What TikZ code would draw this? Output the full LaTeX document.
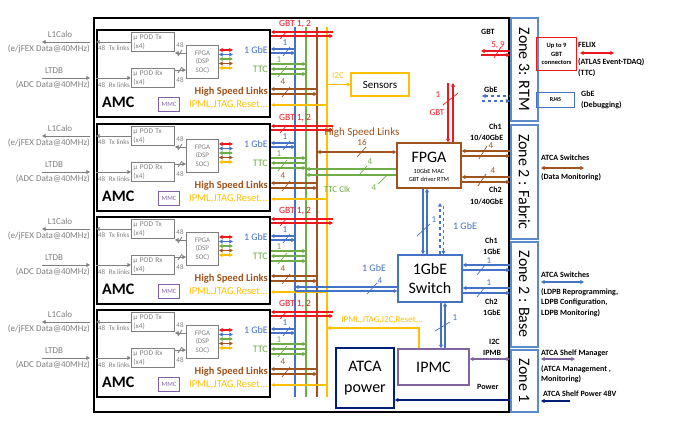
\documentclass[tikz,border=0pt]{standalone}
\usepackage{fontspec}
\setmainfont{Carlito}
\usetikzlibrary{positioning,calc,arrows.meta}

\definecolor{gbtred}{RGB}{235,25,30}
\definecolor{gbeblue}{RGB}{68,114,196}
\definecolor{ttcgreen}{RGB}{112,173,71}
\definecolor{hslbrown}{RGB}{158,84,28}
\definecolor{ctrlyellow}{RGB}{255,192,0}
\definecolor{mmcpurple}{RGB}{128,100,162}
\definecolor{pwrnavy}{RGB}{0,32,120}
\definecolor{podgray}{RGB}{127,127,127}
\definecolor{zoneblue}{RGB}{91,139,201}

\begin{document}
\begin{tikzpicture}[
    x=1pt, y=-1pt,
    >={Triangle[length=3.6pt,width=3.8pt]},
    bus/.style={line width=1.1pt},
    gbt/.style={bus, gbtred},
    gbe/.style={bus, gbeblue},
    ttc/.style={bus, ttcgreen},
    hsl/.style={bus, hslbrown},
    ctrl/.style={bus, ctrlyellow},
    ipmb/.style={bus, mmcpurple},
    pwr/.style={bus, pwrnavy},
    pod/.style={line width=0.9pt, podgray},
    cut/.style={line width=0.7pt},
    lbl/.style={inner sep=0pt, font=\fontsize{9}{10}\selectfont},
    side/.style={anchor=west, inner sep=0pt, font=\fontsize{8}{9}\selectfont\bfseries},
    ext/.style={inner sep=0pt, text=podgray, font=\fontsize{9}{10}\selectfont},
    amcbox/.style={draw, line width=1.8pt, anchor=north west, minimum width=173pt, minimum height=87pt, inner sep=0pt},
    podbox/.style={draw=podgray, line width=0.9pt, anchor=north west, minimum width=43pt, minimum height=19pt, text width=39pt, inner sep=2pt, align=left, text=podgray, font=\fontsize{7.3}{8.5}\selectfont},
    dspbox/.style={draw=podgray, line width=0.9pt, anchor=north west, minimum width=32pt, minimum height=33pt, inner sep=1pt, align=center, text=podgray, font=\fontsize{7}{8.5}\selectfont},
    podtxt/.style={anchor=west, inner sep=0pt, text=podgray, font=\fontsize{7}{7}\selectfont},
    bigbox/.style={line width=1.3pt, align=center, inner sep=0pt, font=\fontsize{16}{19}\selectfont},
    zone/.style={draw=zoneblue, line width=1.6pt, anchor=north west, minimum width=27pt, inner sep=0pt},
    zonetxt/.style={rotate=-90, inner sep=0pt, font=\fontsize{16}{16}\selectfont}
  ]
  \useasboundingbox (0,0) rectangle (681,432);

  % LDPB carrier board
  \node[draw, line width=2pt, anchor=north west, minimum width=415pt, minimum height=394pt, inner sep=0pt] (ldpb) at (93,17) {};

  % backplane buses
  \coordinate (busB) at (295,27);
  \coordinate (busG) at (306,27);
  \coordinate (busBr) at (317,27);
  \coordinate (busY) at (327,27);
  \coordinate (gbtEnd) at (333,27);
  \draw[gbe] (busB) -- (busB |- 0,397);
  \draw[ttc] (busG) -- (busG |- 0,397);
  \draw[hsl] (busBr) -- (busBr |- 0,397);
  \draw[ctrl] (busY) -- (busY |- 0,397);

  % the four AMC cards
  \foreach \t [count=\i] in {29,123,216,309}{
  \begin{scope}[shift={(0,\t)}]
    \node[amcbox] (amc\i) at (96,0) {};
    \node[anchor=west, inner sep=0pt, font=\fontsize{16}{16}\selectfont\bfseries] at (102,73) {AMC};
    \node[podbox] (tx\i) at (131,3) {µ POD Tx\\(x4)};
    \node[podbox] (rx\i) at (131,39) {µ POD Rx\\(x4)};
    \node[dspbox] (dsp\i) at (186,16) {FPGA\\(DSP\\SOC)};
    \node[draw=mmcpurple, line width=1pt, anchor=north west, minimum width=21pt, minimum height=14pt, inner sep=0pt, text=mmcpurple, font=\fontsize{6.5}{7}\selectfont] (mmc\i) at (158,68) {MMC};
    \draw[pod,->] (tx\i.west) -- (tx\i.west -| amc\i.west);
    \draw[pod,->] (rx\i.west -| amc\i.west) -- (rx\i.west);
    \node[podtxt] at (98,19) {48\enspace Tx links};
    \node[podtxt] at (98,56) {48\enspace Rx links};
    \draw[pod,->] (dsp\i.west |- 0,24) -- (0,24 -| tx\i.east);
    \draw[pod,->] (rx\i.east |- 0,41) -- (0,41 -| dsp\i.west);
    \draw[pod] (178,27) -- ++(4,-6);
    \draw[pod] (178,44) -- ++(4,-6);
    \node[podtxt, anchor=center] at (180,16) {48};
    \node[podtxt, anchor=center] at (180,51) {48};
    \foreach \c/\yy in {gbtred/21,gbeblue/25.5,ttcgreen/30,hslbrown/34.5,ctrlyellow/39}
      \draw[bus,\c,<->] (dsp\i.east |- 0,\yy) -- ++(14,0);
    \node[anchor=east, inner sep=0pt, text=gbeblue, font=\fontsize{10}{11}\selectfont] at (268,21) {1 GbE};
    \node[anchor=east, inner sep=0pt, text=ttcgreen, font=\fontsize{10}{11}\selectfont] at (268,40) {TTC};
    \node[anchor=east, inner sep=0pt, text=hslbrown, font=\fontsize{10.5}{11}\selectfont\bfseries] at (268,63) {High Speed Links};
    \node[anchor=east, inner sep=0pt, text=ctrlyellow, font=\fontsize{10.5}{11}\selectfont] at (268,76) {IPML,JTAG,Reset...};
    % front panel links
    \node[ext] at (60,5) {L1Calo};
    \draw[pod,->] ($(tx\i.west -| ldpb.west)+(-3,0)$) -- ++(-48,0);
    \node[ext, anchor=east] at (90,20) {(e/jFEX Data@40MHz)};
    \node[ext] at (54,42) {LTDB};
    \draw[pod,<-] ($(rx\i.west -| ldpb.west)+(-3,0)$) -- ++(-48,0);
    \node[ext, anchor=east] at (90,56) {(ADC Data@40MHz)};
    % links to the buses
    \draw[gbt,<-] (amc\i.east |- 0,3) -- (0,3 -| gbtEnd);
    \draw[gbt,->] (amc\i.east |- 0,7) -- (0,7 -| gbtEnd);
    \draw[gbt,cut] (280,10) -- ++(7,-8);
    \node[lbl, text=gbtred, font=\fontsize{9.5}{10}\selectfont] at (295,-5) {GBT 1, 2};
    \draw[gbe,<-] (amc\i.east |- 0,20) -- (0,20 -| busB);
    \draw[gbe,->] (amc\i.east |- 0,24) -- (0,24 -| busB);
    \draw[gbe,cut] (283,27) -- ++(7,-9);
    \node[lbl, text=gbeblue] at (285,14) {1};
    \draw[ttc,->] (amc\i.east |- 0,35) -- (0,35 -| busG);
    \draw[ttc,<-] (amc\i.east |- 0,40) -- (0,40 -| busG);
    \draw[ttc,->] (amc\i.east |- 0,45) -- (0,45 -| busG);
    \draw[ttc,cut] (278,48) -- ++(9,-11);
    \node[lbl, text=ttcgreen] at (279,31) {1};
    \draw[hsl,<-] (amc\i.east |- 0,60) -- (0,60 -| busBr);
    \draw[hsl,->] (amc\i.east |- 0,65) -- (0,65 -| busBr);
    \draw[hsl,cut] (282,68) -- ++(8,-10);
    \node[lbl, text=hslbrown] at (283,53) {4};
    \draw[ctrl,<-] (amc\i.east |- 0,76) -- (0,76 -| busY);
  \end{scope}
  }

  % sensors
  \node[draw=ctrlyellow, line width=1.1pt, minimum width=58pt, minimum height=23pt, inner sep=0pt, font=\fontsize{11}{12}\selectfont] (sens) at (380,84.5) {Sensors};
  \draw[ctrl,->] (busY |- sens.west) -- (sens.west);
  \node[lbl, text=ctrlyellow] at (338,76) {I2C};

  % RTM FPGA
  \node[bigbox, draw=hslbrown, minimum width=64pt, minimum height=45pt] (fpga) at (429,165.5) {};
  \node[inner sep=0pt, font=\fontsize{16}{16}\selectfont] at (429,157) {FPGA};
  \node[inner sep=0pt, align=center, font=\fontsize{6.3}{8}\selectfont] at (429,175) {10GbE MAC\\GBT driver RTM};
  \draw[hsl,<->] (busBr |- 0,152) -- (fpga.west |- 0,152);
  \draw[hsl,cut] (357,157) -- ++(9,-10);
  \node[lbl, text=hslbrown] at (362,142) {16};
  \node[lbl, text=hslbrown, font=\fontsize{11}{12}\selectfont] at (362,133) {High Speed Links};
  \draw[ttc,<-] (busG |- 0,169) -- (fpga.west |- 0,169);
  \draw[ttc,<-] (busG |- 0,175) -- (fpga.west |- 0,175);
  \draw[ttc,cut] (359,175) -- ++(8,-9);
  \node[lbl, text=ttcgreen] at (370,162) {4};
  \draw[ttc,cut] (378,184) -- ++(9,-9);
  \node[lbl, text=ttcgreen] at (374,188) {4};
  \node[lbl, text=ttcgreen] at (337,189) {TTC Clk};

  % GBT link to the RTM connectors
  \coordinate (gbtA) at (448,83);
  \coordinate (gbtB) at (453,83);
  \draw[gbt,->] (gbtA) -- (gbtA |- fpga.north);
  \draw[gbt,<-] (gbtB) -- (gbtB |- fpga.north);
  \draw[gbt,cut] (443,105) -- ++(15,-12);
  \node[lbl, text=gbtred] at (438,95) {1};
  \node[lbl, text=gbtred] at (437,113) {GBT};

  \node[side] at (481,32) {GBT};
  \node[lbl, text=gbtred] at (498,45) {5, 9};
  \coordinate (rtmGa) at (481,51);
  \coordinate (rtmGb) at (481,55);
  \draw[gbt,<-] (rtmGa) -- (rtmGa -| ldpb.east);
  \draw[gbt,->] (rtmGb) -- (rtmGb -| ldpb.east);
  \draw[gbt,cut] (494,58) -- ++(7,-11);

  \node[side] at (484,90) {GbE};
  \coordinate (rtmEa) at (482,96);
  \coordinate (rtmEb) at (482,101);
  \draw[gbe,dashed,<-] (rtmEa) -- (rtmEa -| ldpb.east);
  \draw[gbe,dashed,->] (rtmEb) -- (rtmEb -| ldpb.east);

  % fabric channels
  \node[side] at (489,127) {Ch1};
  \node[side] at (470,138) {10/40GbE};
  \draw[hsl,<-] (fpga.east |- 0,151) -- (ldpb.east |- 0,151);
  \draw[hsl,->] (fpga.east |- 0,156) -- (ldpb.east |- 0,156);
  \draw[hsl,cut] (479,159) -- ++(8,-13);
  \node[lbl, text=hslbrown] at (491,146) {4};
  \draw[hsl,<-] (fpga.east |- 0,177) -- (ldpb.east |- 0,177);
  \draw[hsl,->] (fpga.east |- 0,182) -- (ldpb.east |- 0,182);
  \draw[hsl,cut] (478,186) -- ++(8,-12);
  \node[lbl, text=hslbrown] at (493,171) {4};
  \node[side] at (489,190) {Ch2};
  \node[side] at (470,202) {10/40GbE};

  % 1GbE switch
  \node[bigbox, draw=gbeblue, minimum width=64pt, minimum height=47pt] (sw) at (430,278.5) {1GbE\\Switch};
  \draw[gbe,->] (fpga.south -| 423,0) -- (sw.north -| 423,0);
  \draw[gbe,<-] (fpga.south -| 427,0) -- (sw.north -| 427,0);
  \draw[gbe,cut] (417,236) -- ++(13,-12);
  \node[lbl, text=gbeblue] at (434,220) {1};
  \coordinate (dashA) at (440,203);
  \coordinate (dashB) at (443.5,203);
  \draw[gbe,dashed,->] (sw.north -| dashA) -- (dashA);
  \draw[gbe,dashed,<-] (sw.north -| dashB) -- (dashB);
  \node[lbl, text=gbeblue, font=\fontsize{10}{11}\selectfont] at (465,226) {1 GbE};

  \draw[gbe,<-] (busB |- 0,287) -- (sw.west |- 0,287);
  \draw[gbe,->] (busB |- 0,291) -- (sw.west |- 0,291);
  \draw[gbe,cut] (367,294) -- ++(10,-11);
  \node[lbl, text=gbeblue] at (380,281) {4};
  \node[lbl, text=gbeblue, font=\fontsize{10}{11}\selectfont] at (374,268) {1 GbE};

  \node[side] at (485,241) {Ch1};
  \node[side] at (483,252) {1GbE};
  \draw[gbe,<-] (sw.east |- 0,265) -- (ldpb.east |- 0,265);
  \draw[gbe,->] (sw.east |- 0,270) -- (ldpb.east |- 0,270);
  \draw[gbe,cut] (477,275) -- ++(8,-10);
  \node[lbl, text=gbeblue] at (489,261) {1};
  \draw[gbe,<-] (sw.east |- 0,288) -- (ldpb.east |- 0,288);
  \draw[gbe,->] (sw.east |- 0,293) -- (ldpb.east |- 0,293);
  \draw[gbe,cut] (477,297) -- ++(8,-10);
  \node[lbl, text=gbeblue] at (489,283) {1};
  \node[side] at (485,302) {Ch2};
  \node[side] at (483,313) {1GbE};

  % IPMC and power
  \node[bigbox, draw=mmcpurple, minimum width=71pt, minimum height=36pt] (ipmc) at (433.5,367) {IPMC};
  \node[bigbox, draw=pwrnavy, line width=1.6pt, minimum width=58pt, minimum height=60pt, font=\fontsize{16}{21}\selectfont] (pwr) at (365,378) {ATCA\\power};
  \draw[gbe,->] (sw.south -| 441,0) -- (ipmc.north -| 441,0);
  \draw[gbe,<-] (sw.south -| 445,0) -- (ipmc.north -| 445,0);
  \draw[gbe,cut] (435,331) -- ++(15,-9);
  \node[lbl, text=gbeblue] at (455,318) {1};
  \draw[ctrl,->] (ipmc.north -| 419,0) |- (busY |- 0,328);
  \node[lbl, text=ctrlyellow] at (382,320) {IPML,JTAG,I2C,Reset...};
  \draw[ipmb,<->] (ipmc.east |- 0,359) -- (ldpb.east |- 0,359);
  \node[side] at (489,342) {I2C};
  \node[side] at (483,353) {IPMB};
  \draw[pwr,->] (ldpb.east |- 0,400) -- (pwr.east |- 0,400);
  \node[side] at (477,387) {Power};

  % ATCA zones
  \node[zone, minimum height=103pt] (zone3) at (510,17) {};
  \node[zonetxt] at (zone3.center) {Zone 3: RTM};
  \node[zone, minimum height=114pt] (zone2f) at (510,124) {};
  \node[zonetxt] at (zone2f.center) {Zone 2 : Fabric};
  \node[zone, minimum height=105pt] (zone2b) at (510,241) {};
  \node[zonetxt] at (zone2b.center) {Zone 2 : Base};
  \node[zone, minimum height=62pt] (zone1) at (510,349) {};
  \node[zonetxt] at (zone1.center) {Zone 1};

  % outside the shelf
  \node[draw=gbtred, line width=1.1pt, anchor=north west, minimum width=40pt, minimum height=33pt, inner sep=0pt, align=center, font=\fontsize{6.5}{8.5}\selectfont\bfseries] (gbtc) at (536,37) {Up to 9\\GBT\\connectors};
  \node[side] at (578,45) {FELIX};
  \coordinate (felixA) at (580,53);
  \coordinate (felixB) at (614,53);
  \draw[gbt,<->] (felixA) -- (felixB);
  \node[side] at (578,62) {(ATLAS Event-TDAQ)};
  \node[side] at (578,73) {(TTC)};

  \node[draw=gbeblue, line width=1.1pt, anchor=north west, minimum width=38pt, minimum height=15pt, inner sep=0pt, font=\fontsize{6}{7}\selectfont\bfseries] (rj45) at (536,92) {RJ45};
  \node[side] at (581,94) {GbE};
  \node[side] at (581,105) {(Debugging)};

  \node[side] at (541,158) {ATCA Switches};
  \coordinate (fabA) at (541,168);
  \coordinate (fabB) at (584,168);
  \draw[hsl,<->] (fabA) -- (fabB);
  \node[side] at (541,177) {(Data Monitoring)};

  \node[side] at (541,275) {ATCA Switches};
  \coordinate (baseA) at (541,282);
  \coordinate (baseB) at (584,282);
  \draw[gbe,<->] (baseA) -- (baseB);
  \node[side] at (541,292) {(LDPB Reprogramming,};
  \node[side] at (541,302) {LDPB Configuration,};
  \node[side] at (541,313) {LDPB Monitoring)};

  \node[side] at (541,353) {ATCA Shelf Manager};
  \coordinate (shmA) at (541,359);
  \coordinate (shmB) at (575,359);
  \draw[ipmb,<->] (shmA) -- (shmB);
  \node[side] at (541,369) {(ATCA Management ,};
  \node[side] at (541,379) {Monitoring)};
  \node[side] at (543,394) {ATCA Shelf Power 48V};
  \coordinate (psA) at (541,401);
  \coordinate (psB) at (570,401);
  \draw[pwr,->] (psB) -- (psA);
\end{tikzpicture}
\end{document}
